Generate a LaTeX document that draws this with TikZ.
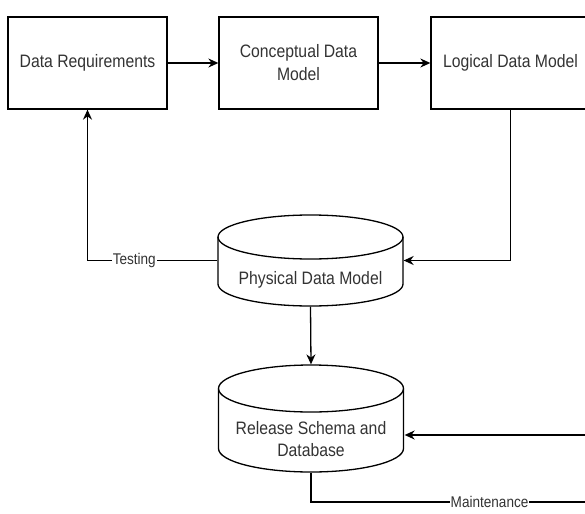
\documentclass[tikz,border=0pt]{standalone}
\usepackage{fontspec}
\setmainfont{Liberation Sans}[FakeStretch=0.875]
\usetikzlibrary{arrows.meta}

\tikzset{every picture/.style={line width=1.3pt}}
\tikzset{
  procbox/.style={draw, minimum width=159pt, minimum height=92pt, inner sep=0pt, align=center, text=black!80, font=\fontsize{18}{23}\selectfont},
  dbnode/.style={minimum width=185pt, minimum height=91pt, inner sep=0pt, align=center, text=black!80, font=\fontsize{18}{22}\selectfont, text depth=0pt},
  flow/.style={-{Stealth[length=10pt,width=9pt]}},
  flowlabel/.style={fill=white, inner sep=1pt, text=black!80, font=\fontsize{15.5}{18}\selectfont}
}
% cylinder outline: centre x, top y, bottom y, end radius
\newcommand{\dbshape}[4]{%
  \draw (#1-92.5,#2+#4) -- (#1-92.5,#3-#4) arc[start angle=180, end angle=0, x radius=92.5, y radius=#4] -- (#1+92.5,#2+#4);
  \draw (#1,#2+#4) ellipse [x radius=92.5, y radius=#4];
}

\begin{document}
\begin{tikzpicture}[x=1pt,y=1pt,yscale=-1,xscale=1]
    \useasboundingbox (0,0) rectangle (585,513);

    %Shape: Rectangle
    \node[procbox] (dr) at (87.5,63) {Data Requirements};
    %Shape: Rectangle
    \node[procbox] (cdm) at (298.5,63) {Conceptual Data\\Model};
    %Shape: Rectangle
    \node[procbox] (ldm) at (510.5,63) {Logical Data Model};

    %Shape: Can
    \dbshape{310.5}{215}{306}{22}
    \node[dbnode, text height=48pt] (pdm) at (310.5,260.5) {Physical Data Model};
    %Shape: Can
    \dbshape{311}{365}{472}{23.5}
    \node[dbnode, minimum width=186pt, minimum height=107pt, text height=76pt] (rsd) at (311,418.5) {Release Schema and\\Database};

    \coordinate (maintin) at (590,435);
    \coordinate (maintout) at (590,502);

    %Straight Lines
    \draw[flow] (dr) -- (cdm);
    \draw[flow] (cdm) -- (ldm);
    \draw[flow] (ldm.south) |- (pdm.east);
    \draw[flow] (pdm.west) -| node[flowlabel, pos=0.32] {Testing} (dr.south);
    \draw[flow] (pdm.south) -- (rsd.north);
    \draw[flow] (maintin) -- (maintin -| rsd.east);
    \draw (rsd.south) |- node[flowlabel, pos=0.82] {Maintenance} (maintout);
\end{tikzpicture}
\end{document}
